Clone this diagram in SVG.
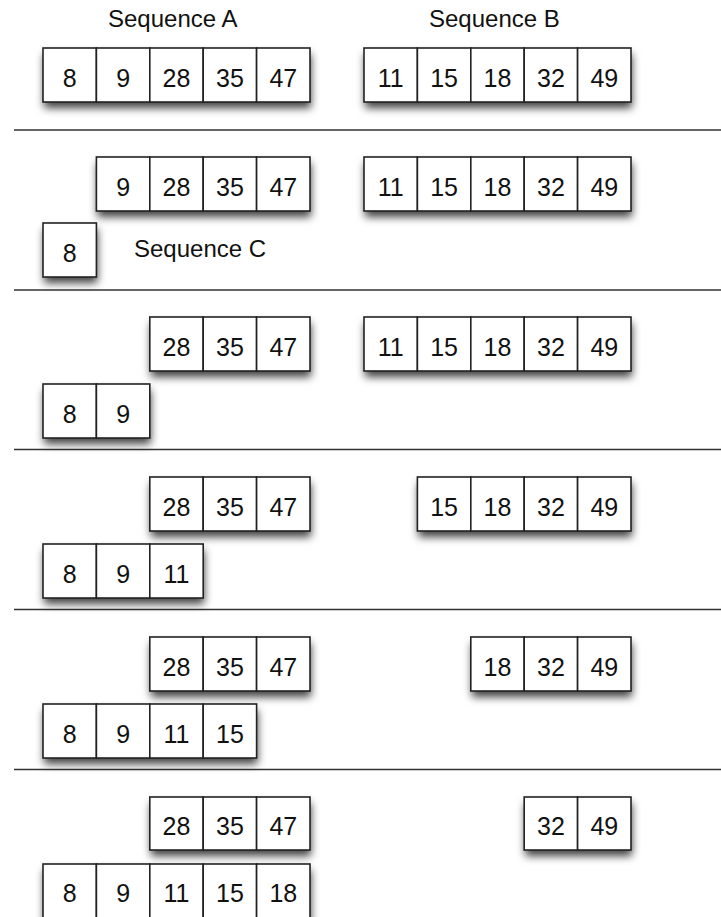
<svg xmlns="http://www.w3.org/2000/svg" width="721" height="917" viewBox="0 0 721 917">
<style>
.t{font-family:"Liberation Sans",Arial,sans-serif;font-size:24px;fill:#111}
.n{font-family:"Liberation Sans",Arial,sans-serif;font-size:25px;fill:#111;text-anchor:middle}
.bg{fill:#fff;stroke:none;filter:url(#sh)}
.c{fill:#fff;stroke:#222;stroke-width:1.6}
.sep{stroke:#333;stroke-width:1.6}
</style>
<defs>
<filter id="sh" x="-20%" y="-30%" width="140%" height="190%">
<feDropShadow dx="1" dy="6" stdDeviation="4" flood-color="#000" flood-opacity="0.75"/>
</filter>
</defs>
<rect width="721" height="917" fill="#fff"/>
<text class="t" x="108" y="27">Sequence A</text>
<text class="t" x="429" y="27">Sequence B</text>
<text class="t" x="134" y="257">Sequence C</text>
<g id="separators">
<line class="sep" x1="14" y1="130" x2="721" y2="130"/>
<line class="sep" x1="14" y1="290" x2="721" y2="290"/>
<line class="sep" x1="14" y1="449.5" x2="721" y2="449.5"/>
<line class="sep" x1="14" y1="609.5" x2="721" y2="609.5"/>
<line class="sep" x1="14" y1="769.5" x2="721" y2="769.5"/>
</g>
<!-- Section 1 -->
<g id="s1A">
<rect class="bg" x="43" y="48" width="267" height="54"/>
<rect class="c" x="43" y="48" width="53.4" height="54"/><text class="n" x="69.7" y="86.5">8</text>
<rect class="c" x="96.4" y="48" width="53.4" height="54"/><text class="n" x="123.1" y="86.5">9</text>
<rect class="c" x="149.8" y="48" width="53.4" height="54"/><text class="n" x="176.5" y="86.5">28</text>
<rect class="c" x="203.2" y="48" width="53.4" height="54"/><text class="n" x="229.9" y="86.5">35</text>
<rect class="c" x="256.6" y="48" width="53.4" height="54"/><text class="n" x="283.3" y="86.5">47</text>
</g>
<g id="s1B">
<rect class="bg" x="364" y="48" width="267" height="54"/>
<rect class="c" x="364" y="48" width="53.4" height="54"/><text class="n" x="390.7" y="86.5">11</text>
<rect class="c" x="417.4" y="48" width="53.4" height="54"/><text class="n" x="444.1" y="86.5">15</text>
<rect class="c" x="470.8" y="48" width="53.4" height="54"/><text class="n" x="497.5" y="86.5">18</text>
<rect class="c" x="524.2" y="48" width="53.4" height="54"/><text class="n" x="550.9" y="86.5">32</text>
<rect class="c" x="577.6" y="48" width="53.4" height="54"/><text class="n" x="604.3" y="86.5">49</text>
</g>
<!-- Section 2 -->
<g id="s2A">
<rect class="bg" x="96.4" y="157" width="213.6" height="54"/>
<rect class="c" x="96.4" y="157" width="53.4" height="54"/><text class="n" x="123.1" y="195.5">9</text>
<rect class="c" x="149.8" y="157" width="53.4" height="54"/><text class="n" x="176.5" y="195.5">28</text>
<rect class="c" x="203.2" y="157" width="53.4" height="54"/><text class="n" x="229.9" y="195.5">35</text>
<rect class="c" x="256.6" y="157" width="53.4" height="54"/><text class="n" x="283.3" y="195.5">47</text>
</g>
<g id="s2B">
<rect class="bg" x="364" y="157" width="267" height="54"/>
<rect class="c" x="364" y="157" width="53.4" height="54"/><text class="n" x="390.7" y="195.5">11</text>
<rect class="c" x="417.4" y="157" width="53.4" height="54"/><text class="n" x="444.1" y="195.5">15</text>
<rect class="c" x="470.8" y="157" width="53.4" height="54"/><text class="n" x="497.5" y="195.5">18</text>
<rect class="c" x="524.2" y="157" width="53.4" height="54"/><text class="n" x="550.9" y="195.5">32</text>
<rect class="c" x="577.6" y="157" width="53.4" height="54"/><text class="n" x="604.3" y="195.5">49</text>
</g>
<g id="s2C">
<rect class="bg" x="43" y="223" width="53.4" height="54"/>
<rect class="c" x="43" y="223" width="53.4" height="54"/><text class="n" x="69.7" y="261.5">8</text>
</g>
<!-- Section 3 -->
<g id="s3A">
<rect class="bg" x="149.8" y="317" width="160.2" height="54"/>
<rect class="c" x="149.8" y="317" width="53.4" height="54"/><text class="n" x="176.5" y="355.5">28</text>
<rect class="c" x="203.2" y="317" width="53.4" height="54"/><text class="n" x="229.9" y="355.5">35</text>
<rect class="c" x="256.6" y="317" width="53.4" height="54"/><text class="n" x="283.3" y="355.5">47</text>
</g>
<g id="s3B">
<rect class="bg" x="364" y="317" width="267" height="54"/>
<rect class="c" x="364" y="317" width="53.4" height="54"/><text class="n" x="390.7" y="355.5">11</text>
<rect class="c" x="417.4" y="317" width="53.4" height="54"/><text class="n" x="444.1" y="355.5">15</text>
<rect class="c" x="470.8" y="317" width="53.4" height="54"/><text class="n" x="497.5" y="355.5">18</text>
<rect class="c" x="524.2" y="317" width="53.4" height="54"/><text class="n" x="550.9" y="355.5">32</text>
<rect class="c" x="577.6" y="317" width="53.4" height="54"/><text class="n" x="604.3" y="355.5">49</text>
</g>
<g id="s3C">
<rect class="bg" x="43" y="384" width="106.8" height="54"/>
<rect class="c" x="43" y="384" width="53.4" height="54"/><text class="n" x="69.7" y="422.5">8</text>
<rect class="c" x="96.4" y="384" width="53.4" height="54"/><text class="n" x="123.1" y="422.5">9</text>
</g>
<!-- Section 4 -->
<g id="s4A">
<rect class="bg" x="149.8" y="477" width="160.2" height="54"/>
<rect class="c" x="149.8" y="477" width="53.4" height="54"/><text class="n" x="176.5" y="515.5">28</text>
<rect class="c" x="203.2" y="477" width="53.4" height="54"/><text class="n" x="229.9" y="515.5">35</text>
<rect class="c" x="256.6" y="477" width="53.4" height="54"/><text class="n" x="283.3" y="515.5">47</text>
</g>
<g id="s4B">
<rect class="bg" x="417.4" y="477" width="213.6" height="54"/>
<rect class="c" x="417.4" y="477" width="53.4" height="54"/><text class="n" x="444.1" y="515.5">15</text>
<rect class="c" x="470.8" y="477" width="53.4" height="54"/><text class="n" x="497.5" y="515.5">18</text>
<rect class="c" x="524.2" y="477" width="53.4" height="54"/><text class="n" x="550.9" y="515.5">32</text>
<rect class="c" x="577.6" y="477" width="53.4" height="54"/><text class="n" x="604.3" y="515.5">49</text>
</g>
<g id="s4C">
<rect class="bg" x="43" y="544" width="160.2" height="54"/>
<rect class="c" x="43" y="544" width="53.4" height="54"/><text class="n" x="69.7" y="582.5">8</text>
<rect class="c" x="96.4" y="544" width="53.4" height="54"/><text class="n" x="123.1" y="582.5">9</text>
<rect class="c" x="149.8" y="544" width="53.4" height="54"/><text class="n" x="176.5" y="582.5">11</text>
</g>
<!-- Section 5 -->
<g id="s5A">
<rect class="bg" x="149.8" y="637" width="160.2" height="54"/>
<rect class="c" x="149.8" y="637" width="53.4" height="54"/><text class="n" x="176.5" y="675.5">28</text>
<rect class="c" x="203.2" y="637" width="53.4" height="54"/><text class="n" x="229.9" y="675.5">35</text>
<rect class="c" x="256.6" y="637" width="53.4" height="54"/><text class="n" x="283.3" y="675.5">47</text>
</g>
<g id="s5B">
<rect class="bg" x="470.8" y="637" width="160.2" height="54"/>
<rect class="c" x="470.8" y="637" width="53.4" height="54"/><text class="n" x="497.5" y="675.5">18</text>
<rect class="c" x="524.2" y="637" width="53.4" height="54"/><text class="n" x="550.9" y="675.5">32</text>
<rect class="c" x="577.6" y="637" width="53.4" height="54"/><text class="n" x="604.3" y="675.5">49</text>
</g>
<g id="s5C">
<rect class="bg" x="43" y="704" width="213.6" height="54"/>
<rect class="c" x="43" y="704" width="53.4" height="54"/><text class="n" x="69.7" y="742.5">8</text>
<rect class="c" x="96.4" y="704" width="53.4" height="54"/><text class="n" x="123.1" y="742.5">9</text>
<rect class="c" x="149.8" y="704" width="53.4" height="54"/><text class="n" x="176.5" y="742.5">11</text>
<rect class="c" x="203.2" y="704" width="53.4" height="54"/><text class="n" x="229.9" y="742.5">15</text>
</g>
<!-- Section 6 -->
<g id="s6A">
<rect class="bg" x="149.8" y="797" width="160.2" height="53"/>
<rect class="c" x="149.8" y="797" width="53.4" height="53"/><text class="n" x="176.5" y="835">28</text>
<rect class="c" x="203.2" y="797" width="53.4" height="53"/><text class="n" x="229.9" y="835">35</text>
<rect class="c" x="256.6" y="797" width="53.4" height="53"/><text class="n" x="283.3" y="835">47</text>
</g>
<g id="s6B">
<rect class="bg" x="524.2" y="797" width="106.8" height="53"/>
<rect class="c" x="524.2" y="797" width="53.4" height="53"/><text class="n" x="550.9" y="835">32</text>
<rect class="c" x="577.6" y="797" width="53.4" height="53"/><text class="n" x="604.3" y="835">49</text>
</g>
<g id="s6C">
<rect class="bg" x="43" y="864" width="267" height="60"/>
<rect class="c" x="43" y="864" width="53.4" height="60"/><text class="n" x="69.7" y="902">8</text>
<rect class="c" x="96.4" y="864" width="53.4" height="60"/><text class="n" x="123.1" y="902">9</text>
<rect class="c" x="149.8" y="864" width="53.4" height="60"/><text class="n" x="176.5" y="902">11</text>
<rect class="c" x="203.2" y="864" width="53.4" height="60"/><text class="n" x="229.9" y="902">15</text>
<rect class="c" x="256.6" y="864" width="53.4" height="60"/><text class="n" x="283.3" y="902">18</text>
</g>
</svg>
